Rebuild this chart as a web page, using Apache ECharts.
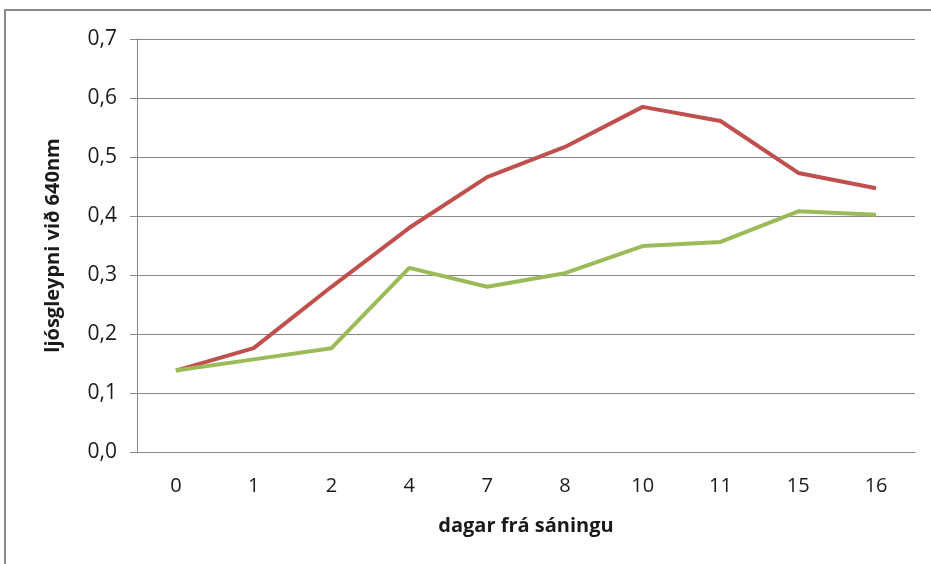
<!DOCTYPE html>
<html>
<head>
<meta charset="utf-8">
<script src="https://cdn.jsdelivr.net/npm/echarts@6/dist/echarts.min.js"></script>
<style>
  html, body { margin: 0; padding: 0; background: #fff; }
  #chart { width: 931px; height: 564px; }
</style>
</head>
<body>
<div id="chart"></div>
<script>
// dagar frá sáningu
const days = ['0', '1', '2', '4', '7', '8', '10', '11', '15', '16'];
const redSeries = [0.138, 0.176, 0.280, 0.380, 0.466, 0.517, 0.585, 0.561, 0.473, 0.447];
const greenSeries = [0.138, 0.157, 0.176, 0.312, 0.280, 0.303, 0.349, 0.356, 0.408, 0.402];

const chart = echarts.init(document.getElementById('chart'));
const grey = '#868686';
const font = '"Open Sans", "Liberation Sans", sans-serif';

chart.setOption({
  animation: false,
  backgroundColor: '#fff',
  graphic: [{
    type: 'rect',
    shape: { x: 5, y: 10, width: 1000, height: 1000 },
    style: { fill: 'none', stroke: '#8a8a8a', lineWidth: 2 },
    silent: true
  }],
  grid: { left: 137, right: 16, top: 39, bottom: 112 },
  xAxis: {
    type: 'category',
    data: days,
    boundaryGap: true,
    name: 'dagar frá sáningu',
    nameLocation: 'middle',
    nameGap: 64,
    nameTextStyle: { fontFamily: font, fontWeight: 'bold', fontSize: 20, color: '#1a1a1a' },
    axisLine: { lineStyle: { color: grey, width: 1 } },
    axisTick: { length: 8, lineStyle: { color: grey } },
    axisLabel: { margin: 24, fontFamily: font, fontSize: 20, color: '#1a1a1a' },
    splitLine: { show: false }
  },
  yAxis: {
    type: 'value',
    min: 0,
    max: 0.7,
    interval: 0.1,
    name: 'ljósgleypni við 640nm',
    nameLocation: 'middle',
    nameGap: 74,
    nameTextStyle: { fontFamily: font, fontWeight: 'bold', fontSize: 20, color: '#1a1a1a' },
    axisLine: { show: true, lineStyle: { color: grey, width: 1 } },
    axisTick: { show: true, length: 7, lineStyle: { color: grey } },
    axisLabel: {
      margin: 20,
      fontFamily: font,
      fontSize: 21,
      color: '#1a1a1a',
      formatter: v => v.toFixed(1).replace('.', ',')
    },
    splitLine: { lineStyle: { color: grey, width: 1 } }
  },
  series: [
    {
      type: 'line',
      data: redSeries,
      showSymbol: false,
      lineStyle: { color: '#C0504D', width: 4 },
      itemStyle: { color: '#C0504D' }
    },
    {
      type: 'line',
      data: greenSeries,
      showSymbol: false,
      lineStyle: { color: '#9BBB59', width: 4 },
      itemStyle: { color: '#9BBB59' }
    }
  ]
});
</script>
</body>
</html>
